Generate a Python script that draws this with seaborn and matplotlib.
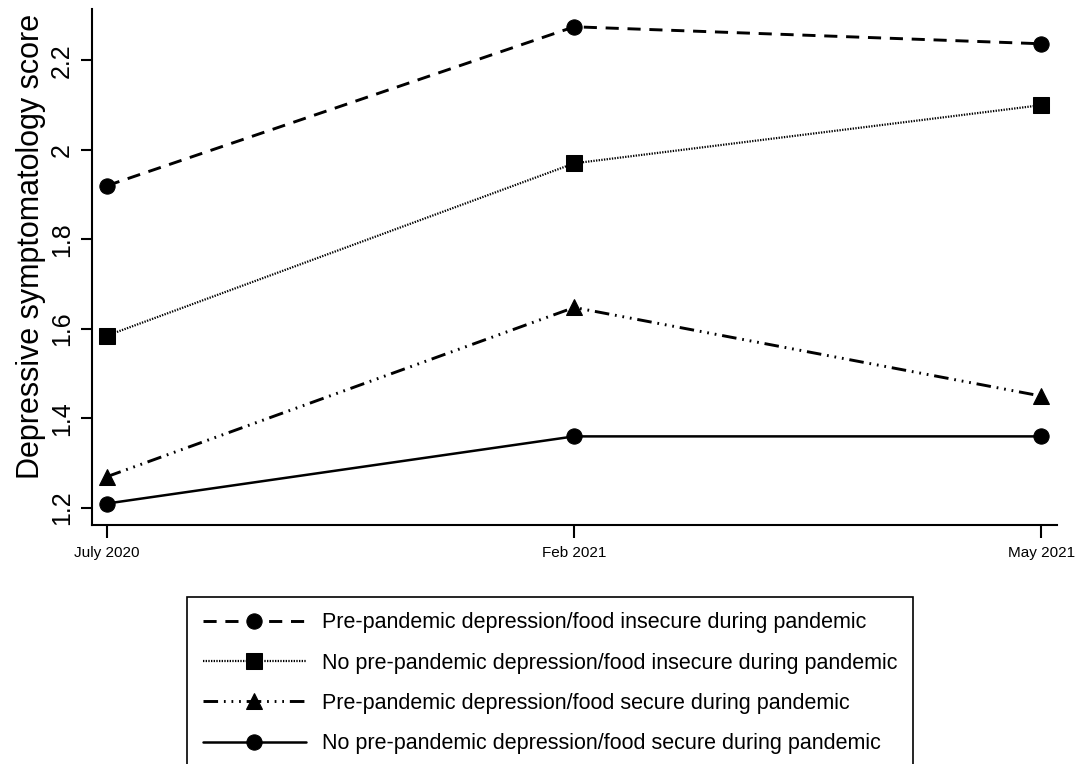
import pandas as pd
import matplotlib
matplotlib.use("Agg")
import matplotlib.pyplot as plt
import seaborn as sns

waves = ["July 2020", "Feb 2021", "May 2021"]
labels = [
    "Pre-pandemic depression/food insecure during pandemic",
    "No pre-pandemic depression/food insecure during pandemic",
    "Pre-pandemic depression/food secure during pandemic",
    "No pre-pandemic depression/food secure during pandemic",
]
dep_insecure = [1.92, 2.275, 2.237]
nodep_insecure = [1.585, 1.97, 2.10]
dep_secure = [1.27, 1.648, 1.45]
nodep_secure = [1.21, 1.36, 1.36]

series = [dep_insecure, nodep_insecure, dep_secure, nodep_secure]
markers = ["o", "s", "^", "o"]
styles = [(0, (4.5, 3)), (0, (0.6, 0.6)), (0, (5, 2, 0.6, 2, 0.6, 2, 0.6, 2)), "-"]
widths = [2.1, 1.6, 2.1, 1.8]

sns.set_theme(style="ticks")
plt.rcParams["font.family"] = ["Liberation Sans", "DejaVu Sans"]
plt.rcParams["text.color"] = "black"
plt.rcParams["axes.labelcolor"] = "black"
plt.rcParams["xtick.color"] = "black"
plt.rcParams["ytick.color"] = "black"

fig = plt.figure(figsize=(10.81, 7.64), dpi=100)
ax = fig.add_axes([0.0851, 0.3128, 0.893, 0.675])

# one line per group, all black
for vals, lab, mk, ls, lw in zip(series, labels, markers, styles, widths):
    df = pd.DataFrame({"wave": waves, "score": vals})
    sns.lineplot(data=df, x="wave", y="score", ax=ax, color="black",
                 marker=mk, markersize=11, markeredgecolor="black",
                 linestyle=ls, linewidth=lw, label=lab, sort=False)

ax.set_xlim(-0.032, 2.034)
ax.set_ylim(1.162, 2.314)
ax.set_yticks([1.2, 1.4, 1.6, 1.8, 2.0, 2.2])
ax.set_yticklabels(["1.2", "1.4", "1.6", "1.8", "2", "2.2"], rotation=90, va="center", fontsize=18)
ax.tick_params(axis="x", labelsize=11, length=9, width=1.5, pad=6)
ax.tick_params(axis="y", length=8, width=1.5, pad=5)
ax.set_xlabel("")
ax.set_ylabel("Depressive symptomatology score", fontsize=22, labelpad=3, y=0.54)
for s in ["left", "bottom"]:
    ax.spines[s].set_linewidth(1.5)
    ax.spines[s].set_color("black")
sns.despine(ax=ax)

handles, labs = ax.get_legend_handles_labels()
ax.get_legend().remove()
leg = fig.legend(handles, labs, loc="upper center", bbox_to_anchor=(0.509, 0.219),
                 borderaxespad=0, frameon=True, fancybox=False, fontsize=15.5,
                 handlelength=4.8, numpoints=1, labelspacing=0.9, borderpad=0.72,
                 handletextpad=0.75)
leg.get_frame().set_edgecolor("black")
leg.get_frame().set_linewidth(1.2)
leg.get_frame().set_alpha(1)

fig.savefig("out.png", dpi=100)
